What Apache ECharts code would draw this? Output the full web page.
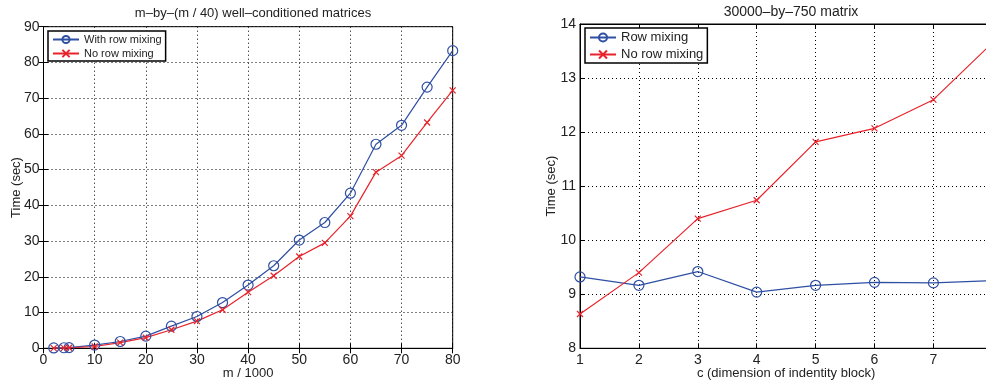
<!DOCTYPE html>
<html>
<head>
<meta charset="utf-8">
<script src="https://cdn.jsdelivr.net/npm/echarts@6/dist/echarts.min.js"></script>
<style>
  html, body { margin: 0; padding: 0; background: #fff; }
  #chart { width: 986px; height: 383px; }
</style>
</head>
<body>
<div id="chart"></div>
<script>
// left panel: m-by-(m/40) matrices
const mValues = [2, 4, 5, 10, 15, 20, 25, 30, 35, 40, 45, 50, 55, 60, 65, 70, 75, 80]
const leftWithMixing = [0.1, 0.15, 0.2, 0.9, 1.9, 3.4, 6.2, 8.9, 12.8, 17.7, 23.1, 30.3, 35.2, 43.4, 57.1, 62.4, 73.1, 83.3]
const leftNoMixing = [0.05, 0.1, 0.15, 0.5, 1.6, 3.0, 5.2, 7.6, 10.8, 15.7, 20.3, 25.7, 29.5, 37.0, 49.3, 53.9, 63.2, 72.2]

// right panel: 30000-by-750 matrix
const cValues = [1, 2, 3, 4, 5, 6, 7, 8]
const rightWithMixing = [9.32, 9.165, 9.42, 9.04, 9.165, 9.22, 9.21, 9.25]
const rightNoMixing = [8.635, 9.40, 10.40, 10.74, 11.82, 12.07, 12.60, 13.65]

const BLUE = "#2f4fa3"
const RED = "#e8232b"
const FONT = "Liberation Sans, Arial, sans-serif"
const CROSS = "path://M0,0L10,10M10,0L0,10"

const pairs = (xs, ys) => xs.map((x, i) => [x, ys[i]])

const chart = echarts.init(document.getElementById("chart"))

const gridLine = { show: true, lineStyle: { color: "#000", type: [1, 3], width: 1 } }
const tick = { show: true, inside: true, length: 5, lineStyle: { color: "#000" } }

function mainX(gridIndex, min, max, interval, name, fontSize) {
  return {
    type: "value", gridIndex, min, max, interval,
    name, nameLocation: "middle", nameGap: 19, nameMoveOverlap: false,
    nameTextStyle: { color: "#222", fontSize: 13, fontFamily: FONT },
    axisLine: { show: true, lineStyle: { color: "#000", width: 1 } },
    axisTick: tick,
    axisLabel: { color: "#222", fontSize, fontFamily: FONT, margin: 5 },
    splitLine: gridLine,
  }
}
function mainY(gridIndex, min, max, interval, fontSize, nameGap) {
  return {
    type: "value", gridIndex, min, max, interval,
    name: "Time (sec)", nameLocation: "middle", nameGap, nameRotate: 90, nameMoveOverlap: false,
    nameTextStyle: { color: "#222", fontSize: 13, fontFamily: FONT },
    axisLine: { show: true, lineStyle: { color: "#000", width: 1 } },
    axisTick: tick,
    axisLabel: { color: "#222", fontSize, fontFamily: FONT, margin: 4 },
    splitLine: gridLine,
  }
}
function mirror(gridIndex, min, max, interval, position) {
  return {
    type: "value", gridIndex, min, max, interval, position,
    axisLine: { show: true, lineStyle: { color: "#000", width: 1 } },
    axisTick: tick, axisLabel: { show: false }, splitLine: { show: false },
  }
}

function lineSeries(name, data, color, cross, xi, yi) {
  return {
    type: "line", name, data, xAxisIndex: xi, yAxisIndex: yi,
    symbol: cross ? CROSS : "circle",
    symbolSize: cross ? 6 : 10,
    showAllSymbol: true,
    lineStyle: { color, width: 1.2 },
    itemStyle: { color: cross ? color : "rgba(255,255,255,0)", borderColor: color, borderWidth: 1.2 },
  }
}

const option = {
  animation: false,
  title: [
    { text: "m–by–(m / 40) well–conditioned matrices", left: 248, top: 2, textAlign: "center",
      textStyle: { fontSize: 13, fontWeight: "normal", color: "#222", fontFamily: FONT } },
    { text: "30000–by–750 matrix", left: 786, top: 0, textAlign: "center",
      textStyle: { fontSize: 14, fontWeight: "normal", color: "#222", fontFamily: FONT } },
  ],
  grid: [
    { left: 43.5, top: 26.7, right: 533.3, bottom: 34.7, outerBoundsMode: "none",
      show: true, borderColor: "#000", borderWidth: 1 },
    { left: 580, top: 24, right: -6.3, bottom: 34.7, outerBoundsMode: "none",
      show: true, borderColor: "#000", borderWidth: 1 },
  ],
  legend: [
    { data: ["With row mixing", "No row mixing"].map(n => ({ name: n })), orient: "vertical",
      left: 48, top: 31, padding: [3, 4, 2, 4], itemGap: 3, itemWidth: 26, itemHeight: 9,
      borderColor: "#000", borderWidth: 1.5, backgroundColor: "#fff",
      textStyle: { fontSize: 11, color: "#222", fontFamily: FONT }, selectedMode: false },
    { data: ["Row mixing", "No row mixing"].map(n => ({ name: n })), orient: "vertical",
      left: 585, top: 28, padding: [3, 4, 2, 4], itemGap: 4, itemWidth: 26, itemHeight: 10,
      borderColor: "#000", borderWidth: 1.5, backgroundColor: "#fff",
      textStyle: { fontSize: 13, color: "#222", fontFamily: FONT }, selectedMode: false },
  ],
  xAxis: [
    mainX(0, 0, 80, 10, "m / 1000", 14),
    mirror(0, 0, 80, 10, "top"),
    mainX(1, 1, 8, 1, "c (dimension of indentity block)", 14),
    mirror(1, 1, 8, 1, "top"),
  ],
  yAxis: [
    mainY(0, 0, 90, 10, 14, 21),
    mirror(0, 0, 90, 10, "right"),
    mainY(1, 8, 14, 1, 14, 22),
    mirror(1, 8, 14, 1, "right"),
  ],
  series: [
    lineSeries("With row mixing", pairs(mValues, leftWithMixing), BLUE, false, 0, 0),
    lineSeries("No row mixing", pairs(mValues, leftNoMixing), RED, true, 0, 0),
    lineSeries("Row mixing", pairs(cValues, rightWithMixing), BLUE, false, 2, 2),
    lineSeries("No row mixing", pairs(cValues, rightNoMixing), RED, true, 2, 2),
  ],
}

chart.setOption(option)
</script>
</body>
</html>
